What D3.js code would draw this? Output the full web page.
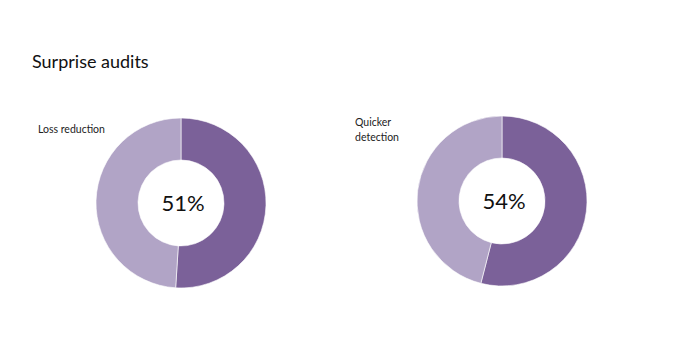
<!DOCTYPE html>
<html><head><meta charset="utf-8">
<script src="https://cdn.jsdelivr.net/npm/d3@7"></script>
<style>body{margin:0;background:#fff}svg{display:block}</style>
</head><body>
<svg id="c" width="690" height="345"></svg>
<script>
const title = "Surprise audits";
const categories = [["Loss reduction"], ["Quicker", "detection"]];
const values = [51, 54];
const colors = ["#7b6199", "#b1a4c6"];

const svg = d3.select("#c");
const font = "Lato, 'Noto Sans', sans-serif";
svg.append("text").attr("x", 32).attr("y", 68).attr("font-family", font)
  .attr("font-size", 18).attr("fill", "#111").text(title);

const centers = [[181, 203], [502, 201]];
const labelPos = [[38, 133], [355, 126]];
const pie = d3.pie().sort(null).value(d => d);
const arc = d3.arc().innerRadius(43).outerRadius(85);

values.forEach((v, i) => {
  const g = svg.append("g").attr("transform", `translate(${centers[i][0]},${centers[i][1]})`);
  g.selectAll("path").data(pie([v, 100 - v])).join("path")
    .attr("d", arc).attr("fill", (d, j) => colors[j])
    .attr("stroke", "#fff").attr("stroke-width", 0.6);
  g.append("text").attr("x", 2).attr("y", 8).attr("text-anchor", "middle")
    .attr("font-family", font).attr("font-size", 22).attr("fill", "#111").text(v + "%");
  const t = svg.append("text").attr("font-family", font).attr("font-size", 10.5).attr("fill", "#222");
  categories[i].forEach((line, k) => {
    t.append("tspan").attr("x", labelPos[i][0]).attr("y", labelPos[i][1] + k * 15).text(line);
  });
});
</script>
</body></html>
